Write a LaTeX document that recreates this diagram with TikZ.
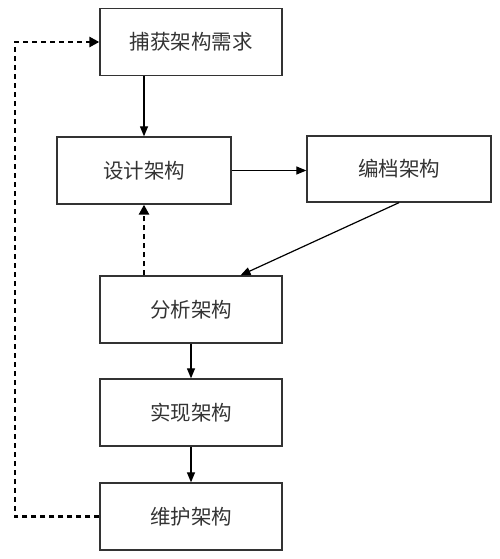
\documentclass[tikz,border=0pt]{standalone}
\usepackage{fontspec}
\newfontfamily\cjk{Noto Sans CJK SC}
\usetikzlibrary{arrows.meta,calc}
\tikzset{
	stage/.style={draw=black!80, line width=1.3pt, minimum width=182pt, minimum height=67pt, inner sep=0pt, font=\cjk\fontsize{20.5}{24}\selectfont, text=black!80},
	flow/.style={line width=1.2pt, -{Triangle[length=10pt,width=8pt]}},
	back/.style={line width=2.8pt, dash pattern=on 5pt off 4pt, -{Triangle[length=10pt,width=10pt]}}
}

\begin{document}
\begin{tikzpicture}[x=1pt, y=-1pt]
			%%%%% START %%%%%
			
			\useasboundingbox (0, 0) rectangle (499, 559);
			
			\node[stage] (capture) at (191, 42) {捕获架构需求};
			\node[stage, minimum width=174pt] (design) at (144, 170.5) {设计架构};
			\node[stage, minimum width=184pt, minimum height=66pt] (record) at (399, 169) {编档架构};
			\node[stage] (analyze) at (191, 309.5) {分析架构};
			\node[stage] (implement) at (191, 412.5) {实现架构};
			\node[stage] (maintain) at (191, 516.5) {维护架构};
			
			\coordinate (loopbot) at (15, 516.5);
			\coordinate (looptop) at (15, 42);
			
			\draw[flow] (capture.south -| design.north) -- (design.north);
			\draw[flow] (design.east) -- (record.west |- design.east);
			\draw[flow] (record.south) -- ($(analyze.north west)!0.77!(analyze.north east)$);
			\draw[back] (analyze.north -| design.south) -- (design.south);
			\draw[flow] (analyze.south) -- (implement.north);
			\draw[flow] (implement.south) -- (maintain.north);
			\draw[back] (maintain.west) -- (loopbot) -- (looptop) -- (capture.west);
			
			%%%%% END %%%%%
		\end{tikzpicture}
\end{document}
